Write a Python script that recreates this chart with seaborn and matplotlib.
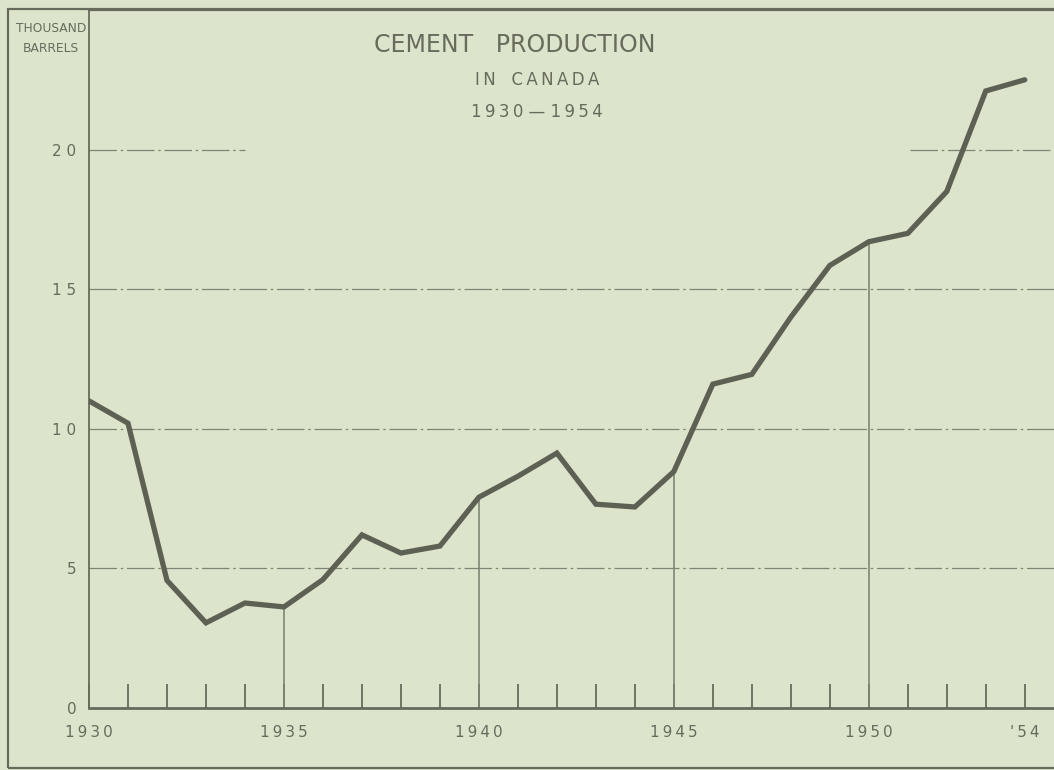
import pandas as pd
import matplotlib.pyplot as plt
import seaborn as sns
from matplotlib.patches import Rectangle

# ====== data ======
years = list(range(1930, 1955))
production = [11.0, 10.2, 4.57, 3.05, 3.76, 3.62, 4.6, 6.2, 5.55, 5.8,
              7.55, 8.3, 9.13, 7.3, 7.2, 8.47, 11.6, 11.95, 14.0, 15.85,
              16.7, 17.0, 18.5, 22.1, 22.5]
label_years = [1930, 1935, 1940, 1945, 1950, 1954]
x_labels = ['1930', '1935', '1940', '1945', '1950', "'54"]
drop_years = [1935, 1940, 1945, 1950]
y_ticks = [0, 5, 10, 15, 20]
y_labels = ['0', '5', '1 0', '1 5', '2 0']

df = pd.DataFrame({'year': years, 'production': production})

# ====== style ======
bg = '#dce5cc'
ink = '#666b5c'
line_col = '#5d6154'
grid_col = '#7f8574'
thin = '\u2009'

sns.set_style('white')
plt.rcParams['font.family'] = ['DejaVu Sans']

W, H = 1054, 770
fig = plt.figure(figsize=(W / 100, H / 100), dpi=100, facecolor=bg)
ax = fig.add_axes([89 / W, (H - 708) / H, (W - 89) / W, (708 - 10) / H])
ax.set_facecolor(bg)

# outer frame
fig.add_artist(Rectangle((8 / W, (H - 768) / H), (W - 6) / W, (768 - 9) / H,
                         transform=fig.transFigure, fill=False,
                         edgecolor=ink, linewidth=1.6))

ax.set_xlim(1930, 1954.75)
ax.set_ylim(0, 25)

# horizontal guide lines
dash = (0, (22, 3, 2, 3))
for v in y_ticks[1:4]:
    ax.axhline(v, color=grid_col, linewidth=0.9, linestyle=dash, zorder=1)
ax.hlines(20, 1930, 1934, color=grid_col, linewidth=0.9, linestyles=[dash], zorder=1)
ax.hlines(20, 1951.05, 1955, color=grid_col, linewidth=0.9, linestyles=[dash], zorder=1)

# vertical drop lines at five-year marks
drop_vals = [df.loc[df['year'] == y, 'production'].iloc[0] for y in drop_years]
ax.vlines(drop_years, 0, drop_vals, color=grid_col, linewidth=1.2, zorder=1)

sns.lineplot(data=df, x='year', y='production', ax=ax, color=line_col,
             linewidth=3.8, zorder=3, solid_joinstyle='miter')

# axes / spines
ax.spines['right'].set_visible(False)
for s in ['left', 'bottom', 'top']:
    ax.spines[s].set_color(ink)
ax.spines['left'].set_linewidth(1.3)
ax.spines['top'].set_linewidth(1.6)
ax.spines['bottom'].set_linewidth(2.0)

ax.set_xticks(years, minor=True)
ax.set_xticks(label_years)
ax.set_xticklabels([thin.join(t) for t in x_labels])
ax.tick_params(axis='x', which='both', bottom=True, direction='in', length=17,
               width=1.3, color=ink, pad=12, labelsize=11, labelcolor=ink)
ax.set_yticks(y_ticks)
ax.set_yticklabels(y_labels)
ax.tick_params(axis='y', length=0, pad=9, labelsize=11, labelcolor=ink)
ax.set_xlabel('')
ax.set_ylabel('')

# titles
fig.text(515 / W, 1 - 45 / H, 'CEMENT   PRODUCTION', ha='center', va='center',
         fontsize=17, color=ink)
fig.text(537 / W, 1 - 80 / H, thin.join('IN') + '   ' + thin.join('CANADA'),
         ha='center', va='center', fontsize=12, color=ink)
fig.text(537 / W, 1 - 112 / H, thin.join('1930') + ' \u2014 ' + thin.join('1954'),
         ha='center', va='center', fontsize=12, color=ink)

fig.text(51 / W, 1 - 29 / H, 'THOUSAND', ha='center', va='center', fontsize=8.8, color=ink)
fig.text(51 / W, 1 - 49 / H, 'BARRELS', ha='center', va='center', fontsize=8.8, color=ink)

fig.savefig('out.png', dpi=100, facecolor=bg)
